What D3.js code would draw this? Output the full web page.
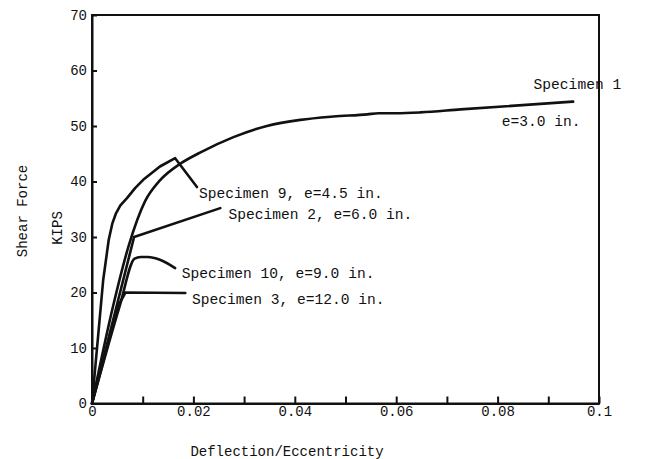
<!DOCTYPE html>
<html>
<head>
<meta charset="utf-8">
<script src="https://cdn.jsdelivr.net/npm/d3@7"></script>
<style>
  html, body { margin: 0; padding: 0; background: #fff; }
  svg { display: block; }
  text { font-family: "Liberation Mono", "DejaVu Sans Mono", monospace; fill: #111; }
</style>
</head>
<body>
<svg id="chart" width="652" height="459"></svg>
<script>
// ---- data ----
const xTicks = [0, 0.01, 0.02, 0.03, 0.04, 0.05, 0.06, 0.07, 0.08, 0.09, 0.1];
const xTickLabels = ["0", "", "0.02", "", "0.04", "", "0.06", "", "0.08", "", "0.1"];
const yTicks = [0, 10, 20, 30, 40, 50, 60, 70];
const yTickLabels = ["0", "10", "20", "30", "40", "50", "60", "70"];

const spec1 = [[0,0],[0.0042,17.7],[0.0072,28.3],[0.0105,36.5],[0.0134,40.2],[0.0174,43.2],
  [0.0213,45.2],[0.0279,48.0],[0.0345,50.0],[0.0411,51.1],[0.0476,51.7],[0.0543,52.1],
  [0.0565,52.3],[0.0600,52.3],[0.0648,52.45],[0.0727,53.0],[0.0949,54.4]];
const spec9 = [[0,0],[0.0022,22.2],[0.0033,29.5],[0.0040,32.4],[0.0047,34.2],[0.0056,35.7],[0.0069,37.0],
  [0.0085,38.8],[0.0101,40.3],[0.0134,42.7],[0.0164,44.2],[0.0207,39.0]];
const spec2 = [[0,0],[0.0049,17.7],[0.0083,30.0],[0.0253,35.2]];
const spec10 = [[0,0],[0.0055,17.7],[0.0084,26.1],[0.0096,26.4],[0.0110,26.4],[0.0134,25.9],[0.0164,24.4]];
const spec3 = [[0,0],[0.0052,17.7],[0.0066,20.0],[0.0184,19.9]];

const labelTexts = ["Specimen 1", "e=3.0 in.", "Specimen 9, e=4.5 in.", "Specimen 2, e=6.0 in.",
  "Specimen 10, e=9.0 in.", "Specimen 3, e=12.0 in."];
// label anchor positions in data coordinates
const labelX = [0.0871, 0.0808, 0.0211, 0.0269, 0.0177, 0.0197];
const labelY = [56.6, 50.0, 37.1, 33.3, 22.7, 18.0];

const xTitle = "Deflection/Eccentricity";
const yTitle1 = "Shear Force";
const yTitle2 = "KIPS";

// ---- layout ----
const svg = d3.select("#chart");
const L = 92, R = 599, T = 15, B = 403.5;
const x = d3.scaleLinear().domain([0, 0.1]).range([L, R]);
const y = d3.scaleLinear().domain([0, 70]).range([B, T]);

// frame
svg.append("rect").attr("x", L).attr("y", T).attr("width", R - L).attr("height", B - T)
  .attr("fill", "none").attr("stroke", "#111").attr("stroke-width", 2);

// bottom axis (inward ticks)
const xAxis = d3.axisBottom(x).tickValues(xTicks).tickSizeInner(-7).tickSizeOuter(0)
  .tickFormat((d, i) => xTickLabels[i]).tickPadding(5);
const gx = svg.append("g").attr("transform", `translate(0,${B})`).call(xAxis);
gx.select(".domain").attr("stroke", "#111").attr("stroke-width", 2);
gx.selectAll(".tick line").attr("stroke", "#111").attr("stroke-width", 2);
gx.selectAll(".tick text").attr("font-size", 14).attr("font-family", "Liberation Mono")
  .attr("fill", "#111").attr("dy", "0.55em");

// left axis (inward ticks)
const yAxis = d3.axisLeft(y).tickValues(yTicks).tickSizeInner(-5).tickSizeOuter(0)
  .tickFormat((d, i) => yTickLabels[i]).tickPadding(5);
const gy = svg.append("g").attr("transform", `translate(${L},0)`).call(yAxis);
gy.select(".domain").attr("stroke", "#111").attr("stroke-width", 2);
gy.selectAll(".tick line").attr("stroke", "#111").attr("stroke-width", 2);
gy.selectAll(".tick text").attr("font-size", 14).attr("fill", "#111")
  .attr("x", -5)
  .attr("font-family", d => d >= 50 ? "Liberation Sans" : "Liberation Mono");

// curves
const lineSmooth = d3.line().x(d => x(d[0])).y(d => y(d[1])).curve(d3.curveMonotoneX);
const lineStraight = d3.line().x(d => x(d[0])).y(d => y(d[1])).curve(d3.curveLinear);
const series = [
  {data: spec1, gen: lineSmooth},
  {data: spec9, gen: lineStraight},
  {data: spec2, gen: lineStraight},
  {data: spec10, gen: lineSmooth},
  {data: spec3, gen: lineStraight}
];
svg.append("g").selectAll("path").data(series).join("path")
  .attr("d", s => s.gen(s.data))
  .attr("fill", "none").attr("stroke", "#111").attr("stroke-width", 2.6)
  .attr("stroke-linejoin", "round").attr("stroke-linecap", "round");

// labels
svg.append("g").selectAll("text").data(labelTexts).join("text")
  .attr("x", (d, i) => x(labelX[i]))
  .attr("y", (d, i) => y(labelY[i]))
  .attr("font-size", 14.6)
  .text(d => d);

// titles
svg.append("text").attr("x", 287).attr("y", 456).attr("text-anchor", "middle")
  .attr("font-size", 14).text(xTitle);
svg.append("text").attr("transform", "translate(27,211) rotate(-90)")
  .attr("text-anchor", "middle").attr("font-size", 14).text(yTitle1);
svg.append("text").attr("transform", "translate(62,228) rotate(-90)")
  .attr("text-anchor", "middle").attr("font-size", 14).text(yTitle2);
</script>
</body>
</html>
